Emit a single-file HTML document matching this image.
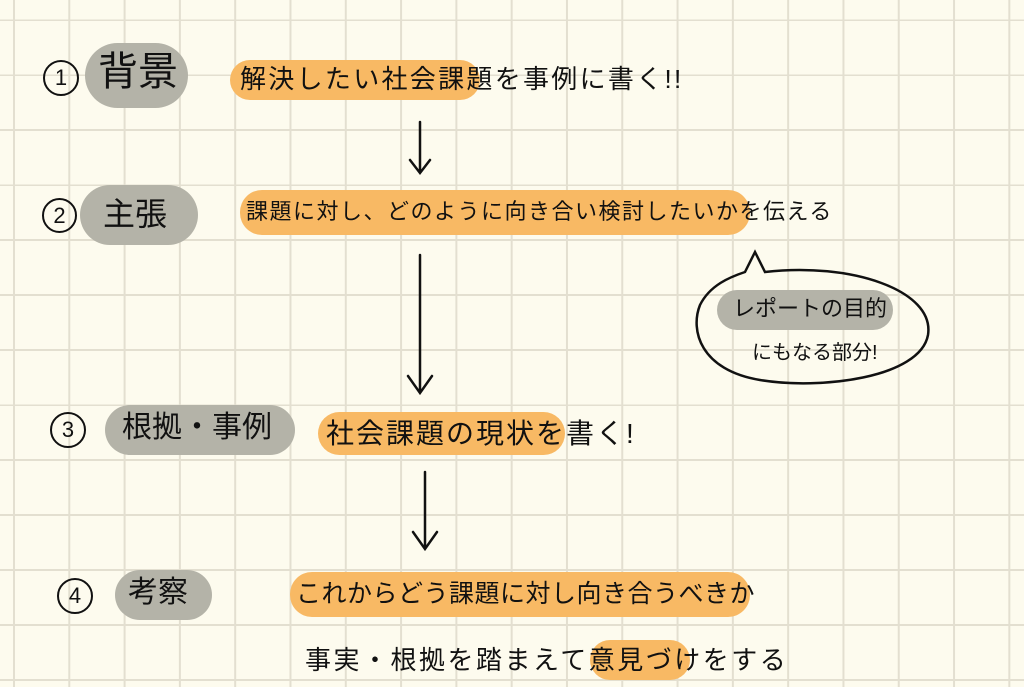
<!DOCTYPE html>
<html><head><meta charset="utf-8"><style>
body{margin:0}
#c{position:relative;width:1024px;height:687px;overflow:hidden;background-color:#fdfbee;
background-image:linear-gradient(to right,#e3dfd0 2px,transparent 2px),linear-gradient(to bottom,#e3dfd0 2px,transparent 2px);
background-size:55.3px 55px;background-position:13px 19px;font-family:"Liberation Sans","Noto Sans CJK JP",sans-serif;color:#111}
.a{position:absolute}
.g{position:absolute;background:#b4b3a8;border-radius:40px}
.o{position:absolute;background:#f8b964;border-radius:22px}
.t{position:absolute;white-space:nowrap;line-height:1}
.n{position:absolute;border:2.5px solid #111;border-radius:50%;font-size:22px;display:flex;align-items:center;justify-content:center;box-sizing:border-box}
</style></head><body><div id="c">
<div class="g" style="left:85px;top:43px;width:103px;height:65px"></div>
<div class="t" style="left:98px;top:52px;font-size:40px">背景</div>
<div class="n" style="left:43px;top:60px;width:36px;height:36px">1</div>
<div class="o" style="left:230px;top:60px;width:250px;height:40px"></div>
<div class="t" style="left:240px;top:66px;font-size:26px;letter-spacing:2.3px">解決したい社会課題を事例に書く!!</div>
<svg class="a" style="left:0;top:0" width="1024" height="687" fill="none" stroke="#111" stroke-width="2.5" stroke-linecap="round">
<path d="M420 122 V172 M410 160 L420 173 L430 160"/>
<path d="M420 255 V392 M408 376 L420 393 L432 376"/>
<path d="M425 472 V548 M413 532 L425 549 L437 532"/>
<path d="M745 272 L755 252 L765 272 C850 262 935 290 928 335 C920 378 820 390 760 380 C700 370 690 330 700 305 C710 285 730 277 745 272 Z"/>
</svg>
<div class="g" style="left:80px;top:185px;width:118px;height:60px"></div>
<div class="t" style="left:103px;top:198px;font-size:32px">主張</div>
<div class="n" style="left:42px;top:198px;width:35px;height:35px">2</div>
<div class="o" style="left:240px;top:190px;width:510px;height:45px"></div>
<div class="t" style="left:246px;top:201px;font-size:22px;letter-spacing:1.5px">課題に対し、どのように向き合い検討したいかを伝える</div>
<div class="g" style="left:717px;top:290px;width:176px;height:40px;border-radius:20px"></div>
<div class="t" style="left:733px;top:298px;font-size:22px">レポートの目的</div>
<div class="t" style="left:752px;top:343px;font-size:20px">にもなる部分!</div>
<div class="g" style="left:105px;top:405px;width:190px;height:50px"></div>
<div class="t" style="left:122px;top:413px;font-size:30px">根拠・事例</div>
<div class="n" style="left:50px;top:412px;width:36px;height:36px">3</div>
<div class="o" style="left:318px;top:412px;width:247px;height:43px"></div>
<div class="t" style="left:326px;top:420px;font-size:28px;letter-spacing:2px">社会課題の現状を書く!</div>
<div class="g" style="left:115px;top:570px;width:97px;height:50px"></div>
<div class="t" style="left:128px;top:578px;font-size:30px">考察</div>
<div class="n" style="left:57px;top:578px;width:36px;height:36px">4</div>
<div class="o" style="left:290px;top:572px;width:460px;height:45px"></div>
<div class="t" style="left:296px;top:582px;font-size:25px;letter-spacing:0.5px">これからどう課題に対し向き合うべきか</div>
<div class="o" style="left:590px;top:640px;width:100px;height:40px"></div>
<div class="t" style="left:305px;top:647px;font-size:26px;letter-spacing:2.5px">事実・根拠を踏まえて意見づけをする</div>
</div></body></html>
